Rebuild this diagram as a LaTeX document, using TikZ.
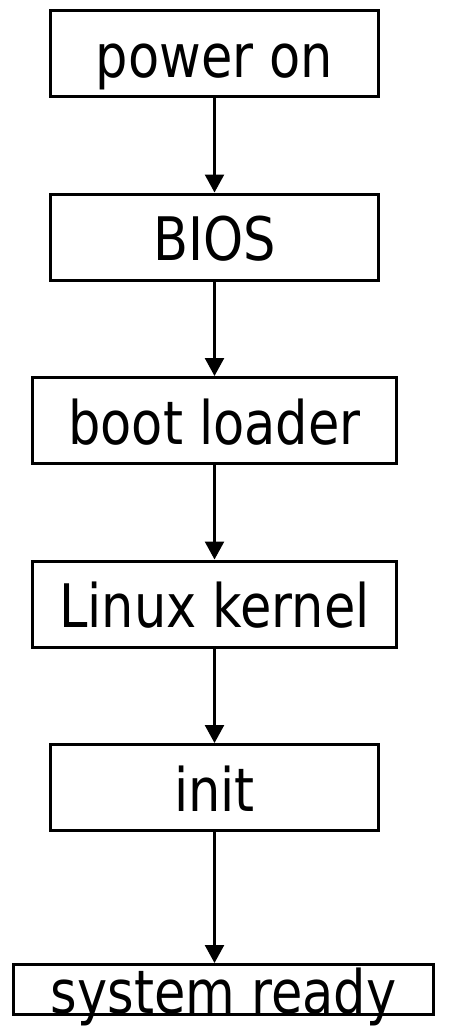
\documentclass[tikz,border=0pt]{standalone}
\usepackage{fontspec}
\setmainfont{DejaVu Sans}[FakeStretch=0.85]
\usepackage{tikz}
\usetikzlibrary{arrows.meta}

\begin{document}
\begin{tikzpicture}[x=1pt,y=-1pt,->,>={Triangle[length=18pt,width=19pt]},node distance=183.5pt,
  line width=2.5pt,box node/.style={draw,line width=3pt,inner sep=0pt,minimum width=328pt,minimum height=86pt,
  text height=47pt,text depth=0pt,font=\fontsize{60}{60}\selectfont}]
  \useasboundingbox (0,0) rectangle (459,1036);

  \node[box node] (power) at (214.5,53.5) {power on};
  \node[box node] (bios) [below of=power] {BIOS};
  \node[box node,minimum width=364pt] (loader) [below of=bios] {boot loader};
  \node[box node,minimum width=364pt] (kernel) [below of=loader] {Linux kernel};
  \node[box node] (init) [below of=kernel] {init};
  \node[box node,minimum width=420pt,minimum height=50pt,node distance=202pt] (ready) [below of=init,xshift=9pt] {system ready};

  \path
    (power) edge (bios)
    (bios) edge (loader)
    (loader) edge (kernel)
    (kernel) edge (init)
    (init) edge ([xshift=-9pt]ready.north);
\end{tikzpicture}
\end{document}
